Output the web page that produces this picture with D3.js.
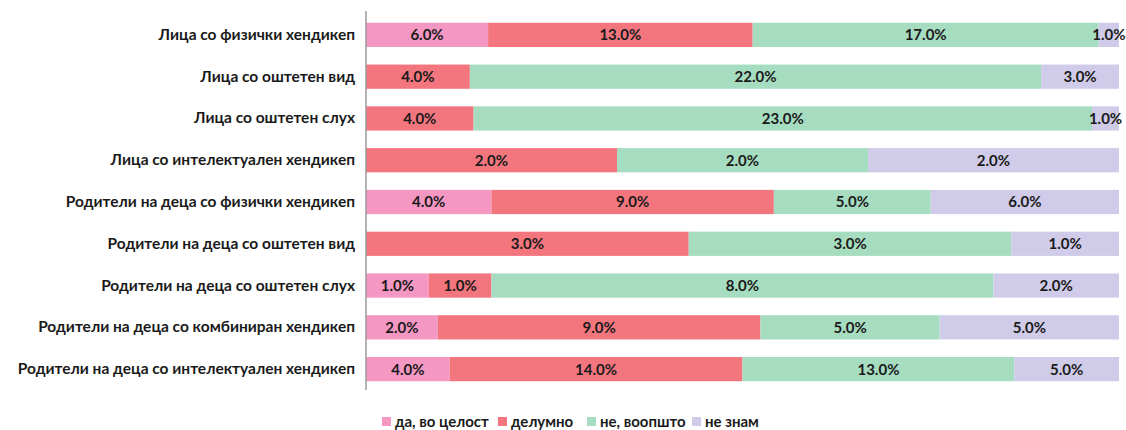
<!DOCTYPE html>
<html>
<head>
<meta charset="utf-8">
<script src="https://cdn.jsdelivr.net/npm/d3@7"></script>
<style>
  body { margin: 0; background: #fff; }
  text { font-family: Lato, "Open Sans", sans-serif; font-weight: bold; fill: #1a1a1a; }
</style>
</head>
<body>
<svg id="chart"></svg>
<script>
const width = 1126;
const height = 430;

const categories = [
    "Лица со физички хендикеп",
    "Лица со оштетен вид",
    "Лица со оштетен слух",
    "Лица со интелектуален хендикеп",
    "Родители на деца со физички хендикеп",
    "Родители на деца со оштетен вид",
    "Родители на деца со оштетен слух",
    "Родители на деца со комбиниран хендикеп",
    "Родители на деца со интелектуален хендикеп"
];
const seriesNames = ["да, во целост", "делумно", "не, воопшто", "не знам"];
const colorScale = ["#f497c2", "#f3767e", "#a6dcbf", "#cfcbe8"];

const daVoCelost = [6, 0, 0, 0, 4, 0, 1, 2, 4];
const delumno = [13, 4, 4, 2, 9, 3, 1, 9, 14];
const neVoopshto = [17, 22, 23, 2, 5, 3, 8, 5, 13];
const neZnam = [1, 3, 1, 2, 6, 1, 2, 5, 5];

const series = [daVoCelost, delumno, neVoopshto, neZnam];

const rows = categories.map(function (c, i) {
    const row = {category: c};
    seriesNames.forEach(function (s, j) {
        row[s] = series[j][i];
    });
    return row;
});

const stacked = d3.stack()
    .keys(seriesNames)
    .offset(d3.stackOffsetExpand)(rows);

const margin = {left: 366, right: 7, top: 14, bottom: 40};

const svg = d3.select("#chart").attr("width", width).attr("height", height);

const x = d3.scaleLinear().domain([0, 1]).range([margin.left, width - margin.right]);
const y = d3.scaleBand()
    .domain(categories)
    .range([margin.top, height - margin.bottom])
    .paddingInner(0.42)
    .paddingOuter(0.21);

const layers = svg.append("g")
    .selectAll("g")
    .data(stacked)
    .join("g")
    .attr("fill", function (d, i) {
        return colorScale[i];
    });

layers.selectAll("rect")
    .data(function (d) { return d; })
    .join("rect")
    .attr("x", function (d) { return x(d[0]); })
    .attr("width", function (d) { return x(d[1]) - x(d[0]); })
    .attr("y", function (d) { return y(d.data.category); })
    .attr("height", y.bandwidth());

// value labels
stacked.forEach(function (layer) {
    svg.append("g")
        .selectAll("text")
        .data(layer.filter(function (d) { return d.data[layer.key] > 0; }))
        .join("text")
        .attr("x", function (d) { return (x(d[0]) + x(d[1])) / 2; })
        .attr("y", function (d) { return y(d.data.category) + y.bandwidth() / 2; })
        .attr("dy", "0.36em")
        .attr("text-anchor", "middle")
        .style("font-size", "15px")
        .text(function (d) { return d3.format(".1f")(d.data[layer.key]) + "%"; });
});

// category axis
const yAxis = svg.append("g")
    .attr("transform", `translate(${margin.left},0)`)
    .call(d3.axisLeft(y).tickSize(0).tickPadding(11));
yAxis.select(".domain").attr("stroke", "#9a9a9a").attr("stroke-width", 1.5)
    .attr("d", `M0,${margin.top - 3}V${height - margin.bottom}`);
yAxis.selectAll("text")
    .style("font-size", "15.5px")
    .style("font-family", "Lato, 'Open Sans', sans-serif")
    .style("font-weight", "bold")
    .attr("fill", "#1a1a1a");

// legend
const legendX = [382, 498, 587, 692];
const legend = svg.append("g");
seriesNames.forEach(function (s, i) {
    legend.append("rect")
        .attr("x", legendX[i])
        .attr("y", 417)
        .attr("width", 9)
        .attr("height", 9)
        .attr("fill", colorScale[i]);
    legend.append("text")
        .attr("x", legendX[i] + 13)
        .attr("y", 422)
        .attr("dy", "0.36em")
        .style("font-size", "15px")
        .text(s);
});
</script>
</body>
</html>
